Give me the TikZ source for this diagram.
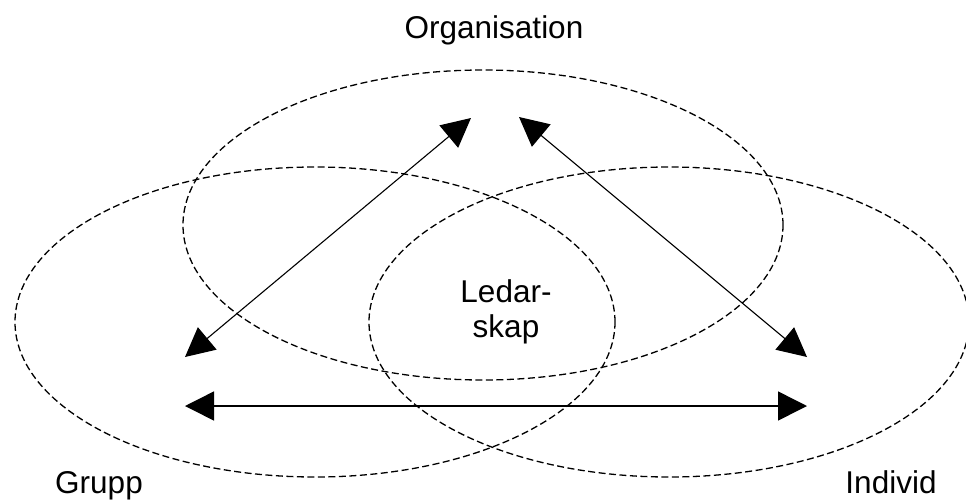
\documentclass[tikz,border=0pt]{standalone}
\usepackage{fontspec}
\setmainfont{Liberation Sans}
\usetikzlibrary{arrows.meta,positioning,shapes.geometric}

\begin{document}
\begin{tikzpicture}[x=1pt,y=-1pt,
  every node/.style={font=\fontsize{31.5}{35}\selectfont},
  area/.style={draw,ellipse,dash pattern=on 7pt off 3.5pt,line width=1.3pt,
    minimum width=600pt,minimum height=310pt,inner sep=0pt},
  link/.style={{Triangle[length=29pt,width=29pt]}-{Triangle[length=29pt,width=29pt]},line width=1.1pt}]
  \useasboundingbox (0,0) rectangle (966,499);
  % the three overlapping fields
  \node [area] (org) at (483,225) {};
  \node [area] (grp) at (315,322) {};
  \node [area] (ind) at (669,322) {};
  % names of the fields
  \node [anchor=base] (orgName) at (494,38) {Organisation};
  \node [anchor=base] (grpName) at (99,493) {Grupp};
  \node [anchor=base] (indName) at (891,493) {Individ};
  \node [align=center] (lead) at (506,312) {Ledar-\\skap};
  % arrow ends
  \coordinate (orgL) at (471,118);
  \coordinate (orgR) at (519,117);
  \coordinate (grpT) at (185,357);
  \coordinate (indT) at (807,357);
  \coordinate (grpB) at (185,406);
  \coordinate (indB) at (807,406);
  \draw [link] (grpT) -- (orgL);
  \draw [link] (orgR) -- (indT);
  \draw [link,line width=1.5pt] (grpB) -- (indB);
\end{tikzpicture}
\end{document}
